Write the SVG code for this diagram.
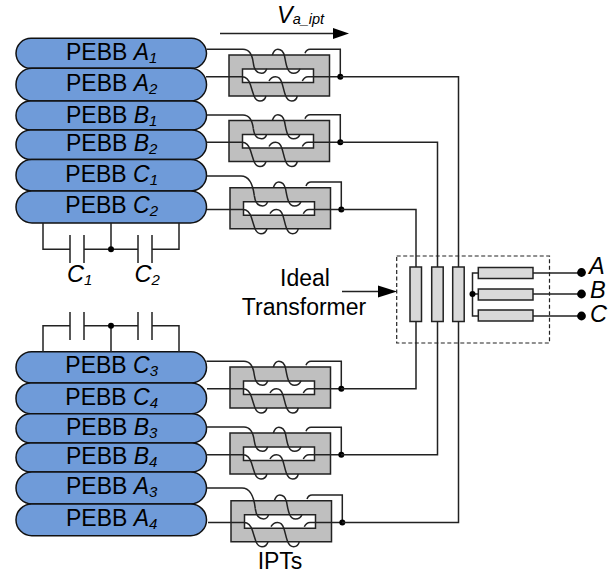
<svg xmlns="http://www.w3.org/2000/svg" width="613" height="574" viewBox="0 0 613 574">
<style>
text{font-family:"Liberation Sans",Arial,sans-serif;fill:#000}
.p{font-size:23px;text-anchor:middle}
.i{font-style:italic}
.l{font-size:23px;text-anchor:middle}
.c{font-size:23.500px;font-style:italic}
.pb{fill:#6f9bd9;stroke:#111;stroke-width:1.5}
.w{fill:none;stroke:#222;stroke-width:1.5}
.d{fill:#000;stroke:none}
.b{fill:#d9d9d9;stroke:#222;stroke-width:1.5}
</style>
<defs>
<g id="ipt">
<path d="M0 0H100.500V41H0ZM13.500 14V27.500H84.500V14Z" fill="#bfbfbf" fill-rule="evenodd" stroke="#222" stroke-width="1.500"/>
<path class="w" d="M24.300 8C25 14 27.500 18.300 32.700 18.300C36 18.300 37 16 37.700 13.700"/>
<path class="w" d="M43.300 0C44.500 -3.500 46 -5.700 48.800 -5.700C52.500 -5.700 54.500 -3 55.500 1C56.500 6 57 10 58.500 13.500C60 17 62 18.300 64.500 18.300C68 18.300 70 16.500 71 13.700"/>
<path class="w" d="M76 -1.700C77 -4.500 78.500 -5.700 81 -5.700H111.300V21.700"/>
<path class="w" d="M-23 21.700H13C17 21.700 20 25 21.500 30C23 35 24 38 25 41C26.500 44.500 28.500 46 31 46C34 46 36 44.500 37 41"/>
<path class="w" d="M40 26C41.500 23 43.500 21.700 46.500 21.700C49.500 21.700 51.500 23.500 52.800 27.500C54 31 54.800 36 56.500 40.500C58 44.500 60 46 62.700 46C65.500 46 67.500 44.500 68.300 41"/>
<path class="w" d="M73.300 26C74.500 23.500 76 21.700 79 21.700H111.300"/>
<circle class="d" cx="111.300" cy="21.700" r="3"/>
</g>
</defs>

<g id="pebb-a1"><rect class="pb" x="16" y="38.300" width="190.500" height="30" rx="15"/><text class="p" x="111.700" y="60">PEBB <tspan class="i">A<tspan font-size="15" dy="3">1</tspan></tspan></text></g>
<g id="pebb-a2"><rect class="pb" x="16" y="68.300" width="190.500" height="32.700" rx="16"/><text class="p" x="111.700" y="91">PEBB <tspan class="i">A<tspan font-size="15" dy="3">2</tspan></tspan></text></g>
<g id="pebb-b1"><rect class="pb" x="16" y="101" width="190.500" height="29" rx="14.500"/><text class="p" x="111.700" y="122.700">PEBB <tspan class="i">B<tspan font-size="15" dy="3">1</tspan></tspan></text></g>
<g id="pebb-b2"><rect class="pb" x="16" y="130" width="190.500" height="29.500" rx="14.700"/><text class="p" x="111.700" y="151">PEBB <tspan class="i">B<tspan font-size="15" dy="3">2</tspan></tspan></text></g>
<g id="pebb-c1"><rect class="pb" x="16" y="159.500" width="190.500" height="31.500" rx="15.700"/><text class="p" x="111.700" y="181.500">PEBB <tspan class="i">C<tspan font-size="15" dy="3">1</tspan></tspan></text></g>
<g id="pebb-c2"><rect class="pb" x="16" y="191" width="190.500" height="32" rx="16"/><text class="p" x="111.700" y="213">PEBB <tspan class="i">C<tspan font-size="15" dy="3">2</tspan></tspan></text></g>
<g id="pebb-c3"><rect class="pb" x="16" y="351.700" width="190.500" height="31.300" rx="15.600"/><text class="p" x="111.700" y="373">PEBB <tspan class="i">C<tspan font-size="15" dy="3">3</tspan></tspan></text></g>
<g id="pebb-c4"><rect class="pb" x="16" y="383" width="190.500" height="30.700" rx="15"/><text class="p" x="111.700" y="404.500">PEBB <tspan class="i">C<tspan font-size="15" dy="3">4</tspan></tspan></text></g>
<g id="pebb-b3"><rect class="pb" x="16" y="413.700" width="190.500" height="29.300" rx="14.600"/><text class="p" x="111.700" y="435">PEBB <tspan class="i">B<tspan font-size="15" dy="3">3</tspan></tspan></text></g>
<g id="pebb-b4"><rect class="pb" x="16" y="443" width="190.500" height="29" rx="14.500"/><text class="p" x="111.700" y="464">PEBB <tspan class="i">B<tspan font-size="15" dy="3">4</tspan></tspan></text></g>
<g id="pebb-a3"><rect class="pb" x="16" y="472" width="190.500" height="32" rx="16"/><text class="p" x="111.700" y="494">PEBB <tspan class="i">A<tspan font-size="15" dy="3">3</tspan></tspan></text></g>
<g id="pebb-a4"><rect class="pb" x="16" y="504" width="190.500" height="31.700" rx="15.800"/><text class="p" x="111.700" y="525.700">PEBB <tspan class="i">A<tspan font-size="15" dy="3">4</tspan></tspan></text></g>

<g id="ipts">
<use href="#ipt" x="229" y="55"/>
<use href="#ipt" x="229" y="120.500"/>
<use href="#ipt" x="230" y="187.700"/>
<use href="#ipt" x="230" y="367"/>
<use href="#ipt" x="230" y="433"/>
<use href="#ipt" x="231" y="500.700"/>
</g>

<g id="connectors">
<path class="w" d="M206.500 49.300H243C250 49.300 252.300 55 253.300 63"/>
<path class="w" d="M206.500 115H243C250 115 252.300 120.500 253.300 128.500"/>
<path class="w" d="M206.500 176H241C249 176 253 185 254.300 195.700"/>
<path class="w" d="M206.500 361.300H244C251 361.300 253.300 367 254.300 375"/>
<path class="w" d="M206.500 427H244C251 427 253.300 433 254.300 441"/>
<path class="w" d="M206.500 488H242C250 488 254 497 255.300 508.700"/>
<path class="w" d="M340 76.700H458.500V267"/>
<path class="w" d="M340 142.200H437.500V267"/>
<path class="w" d="M341 209.400H416V267"/>
<path class="w" d="M341 388.700H416V321"/>
<path class="w" d="M341 454.700H437.500V321"/>
<path class="w" d="M342 522.400H458.500V321"/>
<path class="w" d="M43 223V249.300H70M84 249.300H138M152 249.300H179V223M111 223V249.300"/>
<path class="w" d="M70 235V263M84 235V263M138 235V263M152 235V263"/>
<circle class="d" cx="111" cy="249.300" r="3"/>
<path class="w" d="M43 352V325.700H70M84 325.700H138M152 325.700H179V352M111 352V325.700"/>
<path class="w" d="M70 312V340M84 312V340M138 312V340M152 312V340"/>
<circle class="d" cx="111" cy="325.700" r="3"/>
<path class="w" d="M220 33.500H334"/>
<path class="d" d="M333 28L349 33.500L333 39Z"/>
<path class="w" d="M342 291.500H382"/>
<path class="d" d="M378 285.500L397 291.500L378 297.500Z"/>
<path class="w" d="M478 273H472.500V316H478M472.500 294H478M533 273H581.500M533 294H581.500M533 316H581.500"/>
<circle class="d" cx="472.500" cy="294" r="3"/>
<circle class="d" cx="581.500" cy="272.500" r="4.400"/>
<circle class="d" cx="581.500" cy="294" r="4.400"/>
<circle class="d" cx="581.500" cy="316" r="4.400"/>
</g>

<g id="ideal-transformer">
<rect x="396.700" y="256" width="152.800" height="87" fill="none" stroke="#222" stroke-width="1.200" stroke-dasharray="4 2.500"/>
<rect class="b" x="410" y="267" width="11.500" height="54.500"/>
<rect class="b" x="431.700" y="267" width="11.500" height="54.500"/>
<rect class="b" x="452.700" y="267" width="11.500" height="54.500"/>
<rect class="b" x="478.300" y="267.500" width="54.700" height="11"/>
<rect class="b" x="478.300" y="289" width="54.700" height="11"/>
<rect class="b" x="478.300" y="310" width="54.700" height="11"/>
</g>

<g id="labels">
<text class="c" x="277" y="23">V<tspan font-size="14.500" dy="1">a_ipt</tspan></text>
<text class="c" x="67" y="282">C<tspan font-size="15" dy="3">1</tspan></text>
<text class="c" x="134.500" y="282">C<tspan font-size="15" dy="3">2</tspan></text>
<text class="l" x="305" y="286">Ideal</text>
<text class="l" x="304" y="314.500">Transformer</text>
<text class="l" x="280" y="569">IPTs</text>
<text class="c" x="589" y="273.500">A</text>
<text class="c" x="590" y="298">B</text>
<text class="c" x="590" y="322">C</text>
</g>
</svg>
